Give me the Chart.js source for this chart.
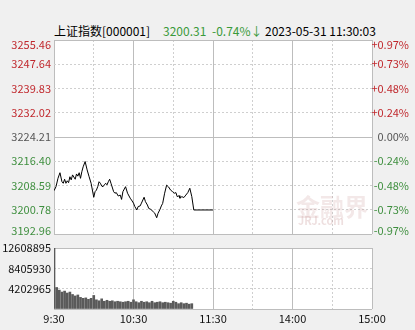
<!DOCTYPE html>
<html>
<head>
<meta charset="utf-8">
<script src="https://cdn.jsdelivr.net/npm/chart.js@4.4.0/dist/chart.umd.min.js"></script>
<style>
body{margin:0;width:415px;height:330px;background:#f0f0f0;position:relative;overflow:hidden;font-family:"Noto Sans CJK SC",sans-serif;}
canvas{position:absolute;left:0;}
#priceCanvas{top:0;}
#volCanvas{top:236px;}
.t{position:absolute;top:24px;font-size:12px;line-height:14px;white-space:nowrap;}
.wm{position:absolute;color:rgba(200,150,150,0.22);font-weight:bold;white-space:nowrap;pointer-events:none;}
</style>
</head>
<body>
<div class="t" style="left:54px;color:#000">上证指数[000001]</div>
<div class="t" style="left:163px;color:#3a9a3a">3200.31</div>
<div class="t" style="left:212px;color:#3a9a3a">-0.74%↓</div>
<div class="t" style="left:265px;color:#000">2023-05-31 11:30:03</div>
<canvas id="priceCanvas" width="415" height="250"></canvas>
<canvas id="volCanvas" width="415" height="94"></canvas>
<div class="wm" style="left:296px;top:188px;font-size:24px;">金融界</div>
<div class="wm" style="left:298px;top:212px;font-size:11px;color:rgba(200,150,150,0.3)">JRJ.com</div>
<script>
// 分時價格 (分鐘 from 9:30, 價格)
var priceMin = [0,1.5,3,4.5,6,7,8,9,10,11,12,13,14,16,17,18,19,20,21,22,23.5,25,26.5,28,
    30,31,32,33,34,35,36,37,38,39,40,41,42,43,45,46,47,48.5,50,51,52,54,55.5,57.5,58.5,
    60,61,62.5,63.5,65,66,68,69,70.5,71.5,73,75,76,77.5,78.5,80,81,82,82.5,83.5,85,86.5,88,89.5,
    91,92,93,94.5,95,96.5,98,99.5,101,102.5,104,105.5,120];
var priceVal = [3206.9,3208.2,3210.9,3212.7,3209.8,3209.3,3210.6,3209.3,3210.1,3209.5,3211.4,3210.4,3212.0,3210.6,3212.3,3211.6,3212.7,3210.9,3213.0,3214.6,3216.3,3213.6,3211.4,3209.3,
    3204.8,3206.6,3207.1,3208.2,3209.8,3209.3,3208.4,3208.2,3208.8,3209.3,3208.8,3209.8,3210.6,3209.3,3206.6,3206.1,3206.3,3205.2,3205.5,3204.1,3206.6,3208.2,3206.1,3204.5,3203.9,
    3202.9,3201.8,3200.7,3201.8,3202.0,3202.9,3204.8,3203.4,3202.3,3201.2,3200.9,3200.1,3199.7,3198.2,3199.6,3200.9,3202.0,3202.8,3203.9,3206.1,3208.7,3208.1,3207.1,3206.6,
    3206.1,3206.3,3205.0,3205.3,3204.5,3205.0,3204.7,3205.5,3206.3,3207.7,3205.0,3200.7,3200.7];

// 成交量 (每2分鐘)
var volMin = [0,2,4,6,8,10,12,14,16,18,20,22,24,26,28,30,32,34,36,38,40,42,44,46,48,50,52,54,56,58,
    60,62,64,66,68,70,72,74,76,78,80,82,84,86,88,90,92,94,96,98,100,102,104];
var volVal = [12550000,4450000,3900000,3500000,3700000,3300000,3500000,3000000,2700000,2900000,2400000,2200000,2300000,2000000,2200000,
    2800000,1900000,1700000,2100000,1600000,1800000,1600000,1700000,1500000,1600000,1500000,1400000,1500000,1600000,1400000,
    1900000,1500000,1300000,1600000,1400000,1500000,1300000,1600000,1300000,1400000,1500000,1300000,1400000,1300000,1200000,
    1600000,1400000,1100000,1300000,1100000,1200000,1000000,1100000];

var priceTicks = ["3255.46","3247.64","3239.83","3232.02","3224.21","3216.40","3208.59","3200.78","3192.96"];
var pctTicks = ["+0.97%","+0.73%","+0.48%","+0.24%","0.00%","-0.24%","-0.48%","-0.73%","-0.97%"];
var volTicks = ["12608895","8405930","4202965","0"];
var timeTicks = [0,30,60,90,120,150,180,210,240];
var timeLabels = {0:"9:30",60:"10:30",120:"11:30",180:"14:00",240:"15:00"};

var FONT = '"Noto Sans CJK SC", sans-serif';
var RED = "#c0282d", GREEN = "#3f8f3f", GRAY = "#555";

// 白色繪圖區
var plotBg = {
    id: "plotBg",
    beforeDraw: function(chart){
        var a = chart.chartArea, c = chart.ctx;
        c.save();
        c.fillStyle = "#fff";
        c.fillRect(a.left, a.top, a.right - a.left, a.bottom - a.top);
        c.restore();
    }
};

function timeGridColor(ctx){
    return (ctx.tick && ctx.tick.value % 60 === 0) ? "#bdbdbd" : "#cfcfcf";
}
function timeGridDash(ctx){
    return (ctx.tick && ctx.tick.value % 60 === 0) ? [] : [2,2];
}
function setTimeTicks(s){
    s.ticks = timeTicks.map(function(v){ return {value: v}; });
}

function edgeLabel(list, i){
    if (i === 0) return ["", list[i]];
    if (i === list.length - 1) return [list[i], ""];
    return list[i];
}
function edgeFont(ctx){
    var n = priceTicks.length;
    if (ctx.index === 0) return {family: FONT, size: 11, lineHeight: "10px"};
    if (ctx.index === n - 1) return {family: FONT, size: 11, lineHeight: "6px"};
    return {family: FONT, size: 11};
}
function levelColor(ctx){
    if (ctx.index < 4) return RED;
    if (ctx.index === 4) return GRAY;
    return GREEN;
}

var ctx = document.getElementById("priceCanvas");
var priceChart = new Chart(ctx, {
    type: "line",
    data: {
        datasets: [{
            data: priceMin.map(function(m, i){ return {x: m, y: priceVal[i]}; }),
            borderColor: "#000",
            borderWidth: 1,
            pointRadius: 0,
            tension: 0,
            yAxisID: "y"
        }]
    },
    options: {
        responsive: false,
        animation: false,
        events: [],
        layout: {padding: {top: 40, left: 0, right: 6, bottom: 16}},
        plugins: {legend: {display: false}, tooltip: {enabled: false}},
        scales: {
            x: {
                type: "linear", min: 0, max: 240,
                afterBuildTicks: setTimeTicks,
                afterFit: function(s){ s.height = 0; },
                ticks: {display: false},
                grid: {color: timeGridColor, drawTicks: false},
                border: {display: false, dash: timeGridDash}
            },
            y: {
                position: "left",
                min: 3192.96, max: 3255.46,
                afterBuildTicks: function(s){
                    s.ticks = priceTicks.map(function(v){ return {value: parseFloat(v)}; });
                },
                afterFit: function(s){ s.width = 54; },
                ticks: {
                    autoSkip: false, padding: 3,
                    color: levelColor, font: edgeFont,
                    callback: function(v, i){ return edgeLabel(priceTicks, i); }
                },
                grid: {
                    drawTicks: false,
                    color: function(c){ return (c.index === 0 || c.index === 4 || c.index === 8) ? "#bdbdbd" : "#cfcfcf"; }
                },
                border: {
                    display: false,
                    dash: function(c){ return (c.index === 0 || c.index === 4 || c.index === 8) ? [] : [2,2]; }
                }
            },
            y1: {
                position: "right",
                min: 3192.96, max: 3255.46,
                afterBuildTicks: function(s){
                    s.ticks = priceTicks.map(function(v){ return {value: parseFloat(v)}; });
                },
                afterFit: function(s){ s.width = 37; },
                ticks: {
                    autoSkip: false, padding: 3, crossAlign: "far",
                    color: levelColor, font: edgeFont,
                    callback: function(v, i){ return edgeLabel(pctTicks, i); }
                },
                grid: {drawOnChartArea: false, drawTicks: false},
                border: {display: false}
            }
        }
    },
    plugins: [plotBg]
});

var ctx = document.getElementById("volCanvas");
var volChart = new Chart(ctx, {
    type: "bar",
    data: {
        datasets: [{
            data: volMin.map(function(m, i){ return {x: m, y: volVal[i]}; }),
            backgroundColor: "#5a5a5a",
            barThickness: 2
        }]
    },
    options: {
        responsive: false,
        animation: false,
        events: [],
        layout: {padding: {top: 12, left: 0, right: 43, bottom: 0}},
        plugins: {legend: {display: false}, tooltip: {enabled: false}},
        scales: {
            x: {
                type: "linear", min: 0, max: 240, offset: false,
                afterBuildTicks: setTimeTicks,
                afterFit: function(s){ s.height = 21; },
                ticks: {
                    autoSkip: false, maxRotation: 0, padding: 3,
                    color: "#111", font: {family: FONT, size: 11},
                    callback: function(v){ return timeLabels[v] || ""; }
                },
                grid: {color: timeGridColor, drawTicks: false, offset: false},
                border: {display: false, dash: timeGridDash}
            },
            y: {
                min: 0, max: 12608895,
                afterBuildTicks: function(s){
                    s.ticks = volTicks.map(function(v){ return {value: parseFloat(v)}; });
                },
                afterFit: function(s){ s.width = 54; },
                ticks: {
                    autoSkip: false, padding: 3,
                    color: "#111", font: {family: FONT, size: 11},
                    callback: function(v, i){ return volTicks[i] === "0" ? "" : volTicks[i]; }
                },
                grid: {
                    drawTicks: false,
                    color: function(c){ return (c.index === 0 || c.index === 3) ? "#bdbdbd" : "#cfcfcf"; }
                },
                border: {
                    display: false,
                    dash: function(c){ return (c.index === 0 || c.index === 3) ? [] : [2,2]; }
                }
            }
        }
    },
    plugins: [plotBg]
});
</script>
</body>
</html>
